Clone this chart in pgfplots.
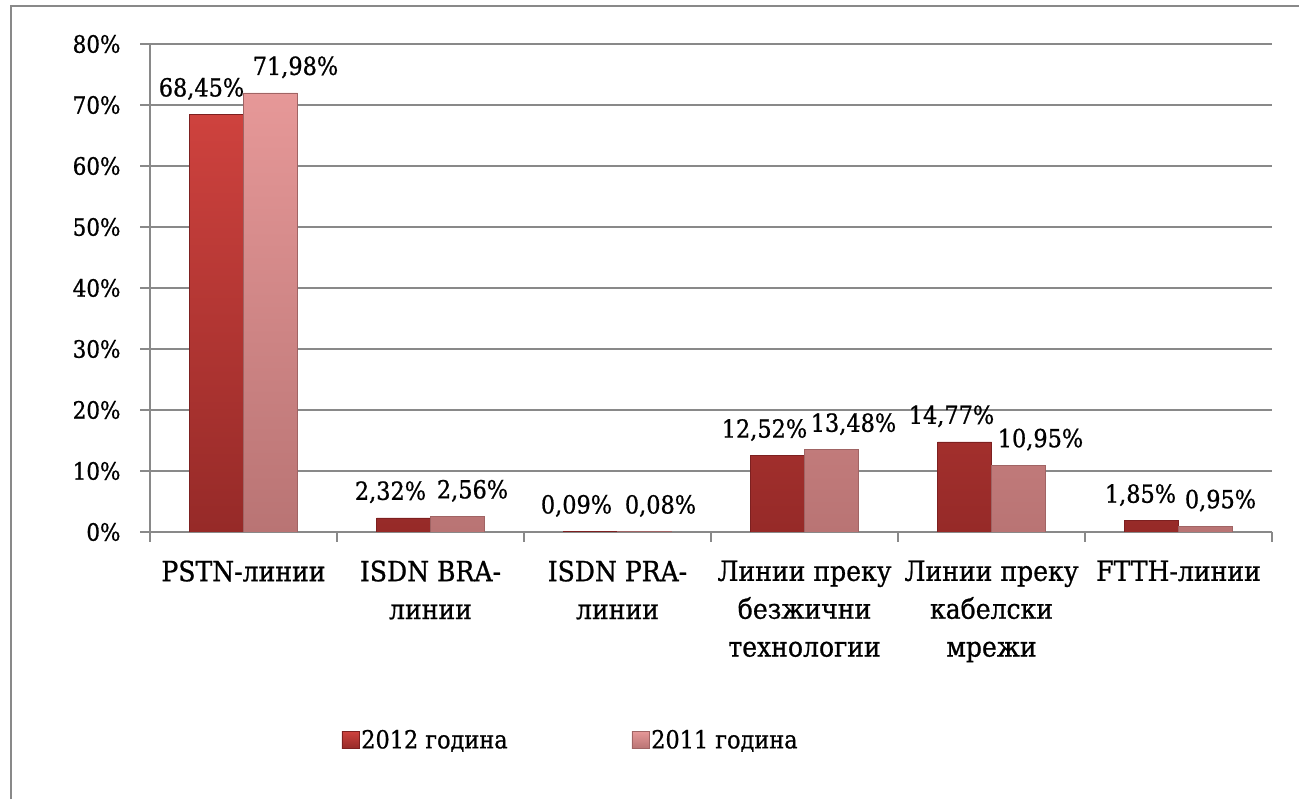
\documentclass[border=0pt]{standalone}
\usepackage{pgfplots}
\pgfplotsset{compat=1.18}
\usepackage{fontspec}
\setmainfont{DejaVu Serif Condensed}[FakeBold=0.8]
\definecolor{gridgray}{RGB}{137,137,137}
\definecolor{rtop}{RGB}{206,66,62}
\definecolor{rbot}{RGB}{150,42,40}
\definecolor{redge}{RGB}{125,32,32}
\definecolor{ptop}{RGB}{230,152,152}
\definecolor{pbot}{RGB}{185,116,116}
\definecolor{pedge}{RGB}{160,100,100}
\pgfplotstableread{
x y dx
0 68.45 -15
1 2.32 -13
2 0.09 -14
3 12.52 -13
4 14.77 -13
5 1.85 -11
}\tabA
\pgfplotstableread{
x y dx
0 71.98 25
1 2.56 15
2 0.08 16
3 13.48 22
4 10.95 22
5 0.95 15
}\tabB
\begin{document}
\begin{tikzpicture}[x=1bp,y=1bp]
\useasboundingbox (0,0) rectangle (1299,799);
\draw[gridgray, line width=1.5bp] (11,0) -- (11,793) -- (1299,793);
\begin{axis}[
  at={(150bp,267bp)}, anchor=south west,
  scale only axis, width=1122bp, height=488bp,
  xmin=-0.5, xmax=5.5, ymin=0, ymax=80,
  ybar=0pt, bar width=54bp,
  axis x line*=bottom, axis y line*=left,
  axis line style={gridgray, line width=1.5bp, -},
  tick style={gridgray, line width=1.5bp},
  tick align=outside, major tick length=10bp,
  ytick={0,10,...,80},
  yticklabel={\pgfmathprintnumber{\tick}\%},
  yticklabel style={font=\fontsize{24}{28}\selectfont, xshift=-16bp, /pgf/number format/assume math mode=true},
  ymajorgrids, grid style={gridgray, line width=1.5bp},
  xtick={-0.5,0.5,...,5.5}, xticklabels={},
  extra x ticks={0,1,2,3,4,5},
  extra x tick labels={PSTN-линии, {ISDN BRA-\\линии}, {ISDN PRA-\\линии}, {Линии преку\\безжични\\технологии}, {Линии преку\\кабелски\\мрежи}, FTTH-линии},
  extra x tick style={major tick length=0pt, grid=none, tick label style={align=center, anchor=north, yshift=-25bp, font=\fontsize{28}{38}\selectfont}},
  nodes near coords={\pgfmathprintnumber[fixed,fixed zerofill,precision=2,use comma]{\pgfplotspointmeta}\%},
  nodes near coords style={font=\fontsize{25}{30}\selectfont, /pgf/number format/assume math mode=true, anchor=south, yshift=11bp},
  legend columns=2,
  legend style={draw=none, fill=none, at={(0.168,-0.426)}, anchor=west, font=\fontsize{25}{30}\selectfont, /tikz/every even column/.append style={column sep=122bp}},
]
\addplot[top color=rtop, bottom color=rbot, draw=redge, line width=0.6bp,
  legend image code/.code={\fill[top color=rtop, bottom color=rbot] (0bp,-8.5bp) rectangle (17bp,8.5bp);},
  visualization depends on={\thisrow{dx} \as \dx},
  every node near coord/.append style={xshift=\dx*1bp}]
  table[x=x,y=y] {\tabA};
\addplot[top color=ptop, bottom color=pbot, draw=pedge, line width=0.6bp,
  legend image code/.code={\fill[top color=ptop, bottom color=pbot] (0bp,-8.5bp) rectangle (17bp,8.5bp);},
  visualization depends on={\thisrow{dx} \as \dx},
  every node near coord/.append style={xshift=\dx*1bp}]
  table[x=x,y=y] {\tabB};
\legend{2012 година, 2011 година}
\end{axis}
\end{tikzpicture}
\end{document}
